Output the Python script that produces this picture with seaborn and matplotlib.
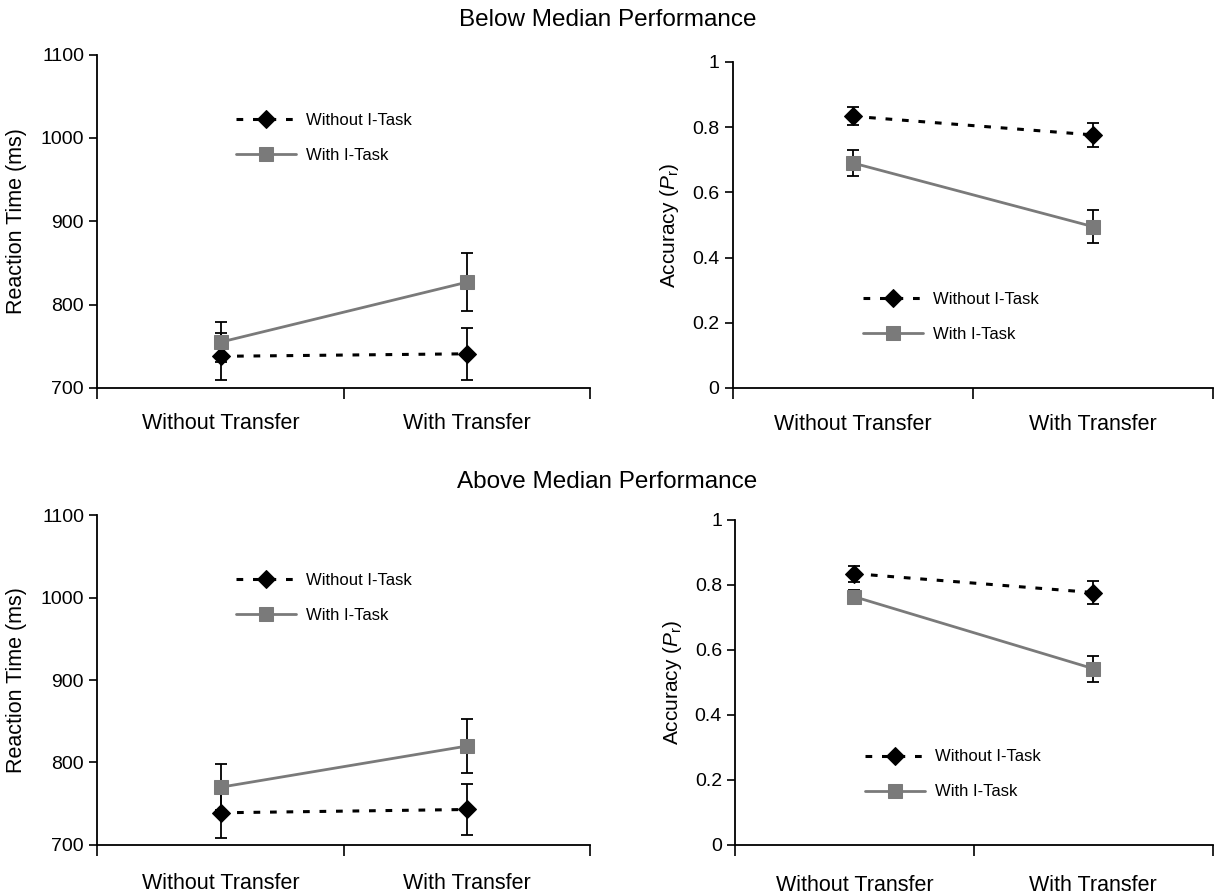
import seaborn as sns
import matplotlib.pyplot as plt
import pandas as pd

# conditions on the x axis
conditions = ['Without Transfer', 'With Transfer']
series = ['Without I-Task', 'With I-Task']

# below median: reaction time (ms) and standard errors
below_rt_without = [738, 741]
below_rt_without_se = [28, 31]
below_rt_with = [755, 827]
below_rt_with_se = [24, 35]
# below median: accuracy (Pr)
below_acc_without = [0.833, 0.776]
below_acc_without_se = [0.027, 0.036]
below_acc_with = [0.690, 0.495]
below_acc_with_se = [0.040, 0.051]

# above median: reaction time (ms)
above_rt_without = [739, 743]
above_rt_without_se = [30, 31]
above_rt_with = [770, 820]
above_rt_with_se = [28, 33]
# above median: accuracy (Pr)
above_acc_without = [0.834, 0.776]
above_acc_without_se = [0.025, 0.035]
above_acc_with = [0.763, 0.542]
above_acc_with_se = [0.020, 0.040]

sns.set_style('ticks')
plt.rcParams['font.family'] = ['Liberation Sans', 'DejaVu Sans']
plt.rcParams['mathtext.fontset'] = 'custom'
plt.rcParams['mathtext.it'] = 'Liberation Sans:italic'
plt.rcParams['mathtext.rm'] = 'Liberation Sans'
for key in ['text.color', 'axes.labelcolor', 'xtick.color', 'ytick.color', 'axes.edgecolor']:
    plt.rcParams[key] = 'black'

styles = {
    'Without I-Task': dict(color='black', marker='D', linestyle=(0, (2.2, 3.2)), markersize=9),
    'With I-Task': dict(color='#7a7a7a', marker='s', linestyle='-', markersize=10),
}

fig = plt.figure(figsize=(12.15, 8.96), dpi=100)
ax_tl = fig.add_axes([0.080, 0.567, 0.406, 0.372])
ax_tr = fig.add_axes([0.603, 0.567, 0.395, 0.364])
ax_bl = fig.add_axes([0.080, 0.057, 0.406, 0.368])
ax_br = fig.add_axes([0.605, 0.057, 0.393, 0.363])

xpos = [0.5, 1.5]


def draw(ax, without, without_se, with_, with_se, kind, legend_anchor, label_pad):
    df = pd.DataFrame({
        'x': xpos * 2,
        'value': without + with_,
        'se': without_se + with_se,
        'series': [series[0]] * 2 + [series[1]] * 2,
    })
    for name in series:
        sub = df[df['series'] == name]
        ax.errorbar(sub['x'], sub['value'], yerr=sub['se'], fmt='none', ecolor='black',
                    elinewidth=1.3, capsize=4, capthick=1.3, zorder=2)
        st = styles[name]
        sns.lineplot(data=sub, x='x', y='value', ax=ax, color=st['color'], marker=st['marker'],
                     markersize=st['markersize'], markeredgecolor=st['color'],
                     linestyle=st['linestyle'], linewidth=2.2 if name == series[0] else 2,
                     label=name, zorder=3, errorbar=None)
    ax.set_xlim(0, 2)
    ax.set_xticks([0, 1, 2])
    ax.set_xticklabels([])
    ax.set_xticks(xpos, minor=True)
    ax.set_xticklabels(conditions, minor=True, fontsize=15.5)
    ax.tick_params(axis='x', which='minor', length=0, pad=label_pad)
    ax.tick_params(axis='x', which='major', length=8, width=1.2, direction='out')
    ax.tick_params(axis='y', length=6, width=1.2, labelsize=14)
    ax.set_xlabel('')
    if kind == 'rt':
        ax.set_ylim(700, 1100)
        ax.set_yticks([700, 800, 900, 1000, 1100])
        ax.set_ylabel('Reaction Time (ms)', fontsize=15.5, labelpad=10)
    else:
        ax.set_ylim(0, 1)
        ax.set_yticks([0, 0.2, 0.4, 0.6, 0.8, 1.0])
        ax.set_yticklabels(['0', '0.2', '0.4', '0.6', '0.8', '1'])
        ax.set_ylabel(r'Accuracy ($P_\mathrm{r}$)', fontsize=15, labelpad=8)
    for side in ['top', 'right']:
        ax.spines[side].set_visible(False)
    for side in ['left', 'bottom']:
        ax.spines[side].set_linewidth(1.3)
    ax.legend(loc='upper left', bbox_to_anchor=legend_anchor, frameon=False, fontsize=12,
              handlelength=3.6, labelspacing=1.2, handletextpad=0.6)


draw(ax_tl, below_rt_without, below_rt_without_se, below_rt_with, below_rt_with_se,
     'rt', (0.25, 0.87), 18)
draw(ax_tr, below_acc_without, below_acc_without_se, below_acc_with, below_acc_with_se,
     'acc', (0.24, 0.34), 19)
draw(ax_bl, above_rt_without, above_rt_without_se, above_rt_with, above_rt_with_se,
     'rt', (0.25, 0.87), 20)
draw(ax_br, above_acc_without, above_acc_without_se, above_acc_with, above_acc_with_se,
     'acc', (0.24, 0.34), 22)

fig.text(0.5, 0.978, 'Below Median Performance', ha='center', va='center', fontsize=17.5)
fig.text(0.5, 0.462, 'Above Median Performance', ha='center', va='center', fontsize=17.5)

fig.savefig('out.png', dpi=100)
